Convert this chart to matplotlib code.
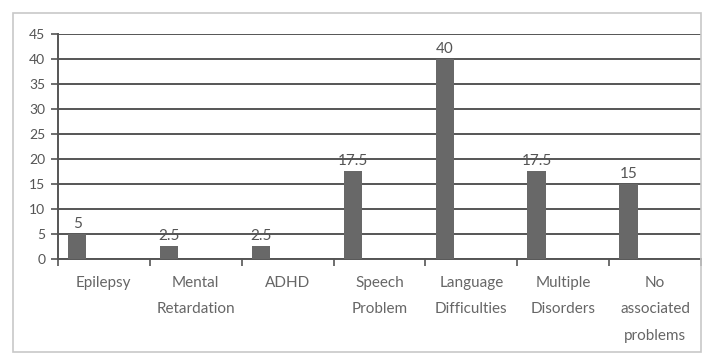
import matplotlib
matplotlib.use("Agg")
import matplotlib.pyplot as plt
from matplotlib.patches import Rectangle
import numpy as np

categories = ["Epilepsy", "Mental\nRetardation", "ADHD", "Speech\nProblem",
              "Language\nDifficulties", "Multiple\nDisorders", "No\nassociated\nproblems"]
values = [5, 2.5, 2.5, 17.5, 40, 17.5, 15]
value_labels = ["5", "2.5", "2.5", "17.5", "40", "17.5", "15"]
y_ticks = [0, 5, 10, 15, 20, 25, 30, 35, 40, 45]

plt.rcParams['font.family'] = ['Lato', 'DejaVu Sans']

fig = plt.figure(figsize=(7.06, 3.56), dpi=100)
ax = fig.add_axes([0.082, 0.2725, 0.911, 0.632])

# outer chart border
fig.patches.append(Rectangle((0.018, 0.01), 0.975, 0.953, transform=fig.transFigure,
                             fill=False, edgecolor="#c8c8c8", linewidth=1.2))

x = np.arange(len(categories))
# bars sit in the left part of each category slot
ax.bar(x + 0.21, values, width=0.2, color="#686868", zorder=3)
for xi, v, lab in zip(x, values, value_labels):
    ax.text(xi + 0.21, v + 0.6, lab, ha="center", va="bottom",
            fontsize=11, color="#555555", zorder=4)

ax.set_xlim(0, len(categories))
ax.set_ylim(0, 45)
ax.set_yticks(y_ticks)
ax.set_yticklabels([str(t) for t in y_ticks], fontsize=10, color="#555555")
ax.yaxis.grid(True, color="#555555", linewidth=1.4, zorder=0)

# category boundaries as ticks, names centred below
ax.set_xticks(np.arange(len(categories) + 1))
ax.set_xticklabels([])
ax.set_xticks(x + 0.5, minor=True)
ax.set_xticklabels(categories, minor=True, fontsize=11, color="#666666",
                   linespacing=2.15, va="top")
ax.tick_params(axis="x", which="minor", length=0, pad=12)
ax.tick_params(axis="x", which="major", length=5, color="#555555", width=1.2)
ax.tick_params(axis="y", length=5, color="#555555", width=1.2, pad=4)

for side in ["top", "right"]:
    ax.spines[side].set_visible(False)
ax.spines["left"].set_color("#555555")
ax.spines["left"].set_linewidth(1.4)
ax.spines["bottom"].set_color("#555555")
ax.spines["bottom"].set_linewidth(1.4)

fig.savefig("out.png", dpi=100)
